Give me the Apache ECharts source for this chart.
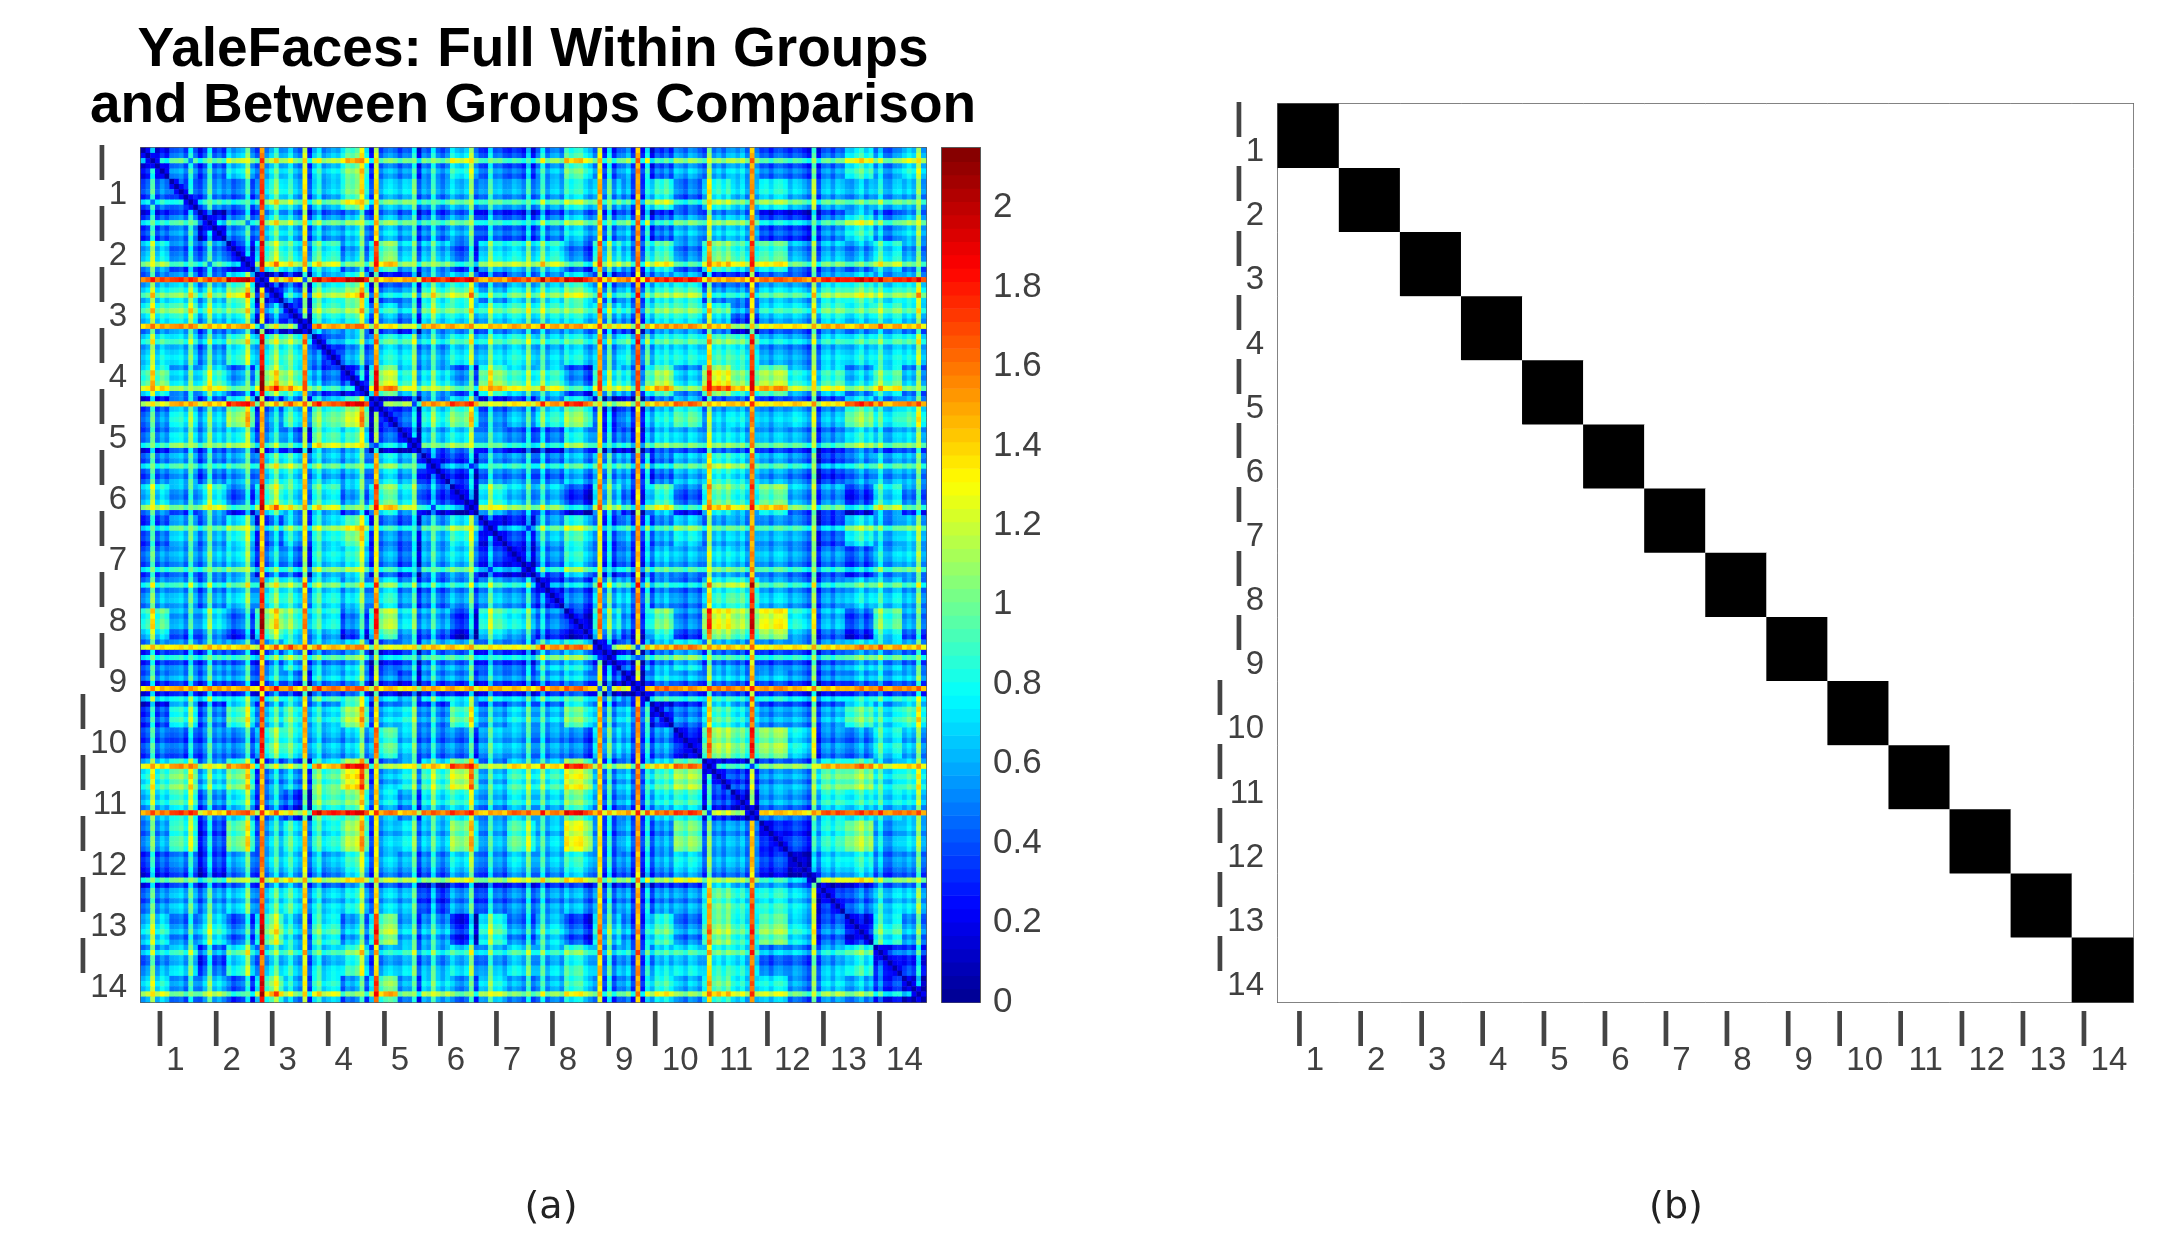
<!DOCTYPE html>
<html><head><meta charset="utf-8">
<style>html,body{margin:0;padding:0;background:#fff}#c{width:2168px;height:1238px}</style>
<script src="https://cdn.jsdelivr.net/npm/echarts@6/dist/echarts.min.js"></script>
</head><body><div id="c"></div>
<script>
const groupLabels = ['1','2','3','4','5','6','7','8','9','10','11','12','13','14'];
const colorbarTicks = [0,0.2,0.4,0.6,0.8,1,1.2,1.4,1.6,1.8,2];
const colorMax = 2.15;
const imageCount = 165;

// Half-group mean distances: 28 rows x 28 columns.
const halfGroupRows = [
[.35,.5,.5,.7,.7,.6,.65,.95,.55,.5,.55,.8,.5,.4,.6,.95,.5,.6,.45,.6,.6,.7,.45,.45,.5,.85,.55,.8],
[.45,.35,.5,.4,.75,.6,.55,.85,.6,.6,.5,.6,.55,.5,.55,.75,.6,.5,.8,.4,.75,.65,.7,.6,.55,.55,.55,.6],
[.45,.5,.3,.5,.75,.6,.55,.6,.65,.55,.5,.6,.45,.4,.5,.7,.55,.6,.45,.6,.65,.7,.35,.35,.5,.8,.5,.7],
[.7,.4,.5,.25,.9,.7,.75,.5,.95,.6,.6,.4,.7,.7,.75,.45,.75,.6,.85,.45,.95,.85,.85,.55,.55,.5,.7,.55],
[.75,.75,.7,.95,.3,.4,.8,.95,.45,.5,.8,.9,.55,.7,.75,.95,.55,.6,.8,.85,.5,.55,.65,.65,.8,.9,.75,.85],
[.8,.8,.7,.75,.4,.25,.75,.8,.6,.45,.75,.75,.7,.75,.75,.8,.65,.55,.8,.8,.7,.4,.6,.65,.75,.7,.75,.7],
[.7,.6,.55,.75,.8,.75,.3,.45,.7,.65,.55,.7,.65,.7,.6,.7,.6,.7,.7,.7,.8,.8,.5,.5,.6,.65,.65,.7],
[.9,.55,.8,.45,1.05,.85,.35,.25,1.05,.7,.65,.45,.95,.75,.75,.4,.75,.65,1,.55,1.15,.95,1,.7,.75,.55,.8,.55],
[.5,.7,.65,1,.5,.7,.85,1.05,.3,.35,.75,.95,.45,.55,.75,1,.35,.45,.7,.85,.6,.7,.55,.65,.55,.95,.7,.85],
[.5,.65,.65,.7,.55,.4,.8,.75,.35,.25,.6,.7,.55,.4,.4,.7,.45,.4,.65,.6,.65,.65,.55,.55,.45,.7,.55,.65],
[.5,.55,.5,.55,.75,.7,.6,.55,.7,.55,.25,.3,.5,.5,.45,.6,.6,.55,.45,.6,.8,.75,.55,.5,.3,.5,.55,.6],
[.75,.5,.8,.4,.95,.7,.75,.5,.95,.7,.35,.2,.8,.6,.6,.3,.7,.45,.85,.4,.95,.85,.95,.6,.5,.3,.7,.5],
[.45,.6,.6,.75,.45,.6,.7,.9,.5,.4,.6,.8,.25,.3,.6,.85,.45,.55,.55,.7,.6,.65,.55,.55,.35,.75,.55,.7],
[.5,.5,.6,.65,.5,.4,.65,.7,.5,.35,.55,.65,.3,.2,.45,.75,.4,.45,.6,.55,.65,.65,.55,.5,.45,.35,.55,.65],
[.6,.55,.55,.65,.8,.7,.7,.6,.75,.5,.45,.55,.6,.5,.3,.45,.65,.6,.55,.45,.8,.9,.6,.55,.5,.65,.65,.6],
[.9,.5,.7,.4,1.1,.85,.7,.4,1.05,.65,.55,.3,.85,.7,.45,.25,.75,.5,.95,.45,1.2,1.1,1.2,.75,.55,.35,.85,.55],
[.5,.45,.55,.5,.55,.65,.55,.6,.35,.45,.55,.55,.45,.4,.65,.75,.3,.4,.6,.7,.55,.55,.45,.5,.5,.65,.6,.55],
[.5,.5,.55,.5,.6,.45,.6,.6,.45,.35,.5,.5,.5,.45,.55,.65,.4,.25,.65,.55,.6,.6,.55,.5,.45,.55,.55,.6],
[.4,.75,.5,.85,.7,.8,.65,1,.6,.7,.5,.9,.55,.65,.6,.95,.6,.65,.35,.45,.85,.75,.5,.55,.55,.9,.7,.9],
[.45,.35,.5,.45,.85,.75,.55,.55,.85,.6,.45,.45,.6,.55,.5,.45,.65,.55,.5,.2,1.05,.95,1,.7,.45,.45,.7,.6],
[.85,.95,.7,.95,.5,.5,.85,1.2,.55,.7,.85,1.15,.6,.8,.8,1.2,.55,.6,.85,1.05,.3,.35,.5,.55,.9,1,.7,.85],
[.75,.85,.55,.75,.55,.3,.9,.95,.7,.55,.75,.85,.6,.75,.7,1,.55,.6,.75,.85,.35,.25,.55,.55,.8,.8,.7,.75],
[.55,.8,.35,.9,.6,.7,.7,1,.55,.65,.6,1,.55,.85,.6,1.2,.45,.55,.5,.95,.5,.55,.2,.3,.75,1,.5,.65],
[.4,.45,.35,.55,.65,.65,.55,.75,.6,.55,.5,.7,.5,.65,.6,.8,.5,.5,.55,.7,.55,.6,.3,.15,.65,.75,.45,.55],
[.5,.55,.55,.6,.7,.7,.6,.65,.6,.55,.3,.5,.4,.45,.5,.55,.5,.5,.5,.5,.9,.8,.75,.65,.25,.4,.6,.65],
[.75,.45,.75,.4,1,.6,.75,.5,1,.55,.55,.25,.8,.45,.65,.35,.7,.5,.85,.45,1,.85,.95,.7,.4,.2,.75,.55],
[.55,.6,.4,.7,.65,.6,.6,.75,.55,.6,.55,.65,.55,.65,.6,.8,.55,.55,.65,.65,.75,.75,.4,.45,.55,.75,.2,.3],
[.8,.5,.7,.4,1,.6,.75,.5,1,.55,.7,.55,.75,.55,.6,.85,.5,.55,.85,.6,.95,.8,.75,.55,.65,.6,.3,.2]
];

// Per-image offset read from the bright and dark stripes of panel (a), ten images per line.
const imageOffset = [
-.15,-.05,.45,-.1,.05,-.05,.03,.05,.1,-.05,
.4,.02,-.2,-.02,.4,-.05,.05,-.08,.1,-.05,
.03,.08,.45,-.1,-.25,.95,-.1,.05,.3,-.05,
.08,.26,.02,-.08,.7,-.25,.08,.25,-.05,.03,
.1,.05,-.08,.12,.05,.15,.5,-.1,-.25,.75,
-.08,.05,.1,.03,-.05,.08,.05,.4,-.25,.05,
-.03,.35,.02,-.08,.05,.1,-.02,-.07,.03,.45,
-.2,-.05,-.08,.35,.02,.06,-.06,0,.1,.05,
-.05,.35,-.1,-.05,.3,-.08,.05,.08,-.05,.1,
-.03,.05,.08,-.1,-.2,.04,.85,-.15,.35,-.15,
.05,-.03,.1,-.2,.95,-.25,.25,-.2,.05,-.03,
.1,-.05,.08,.03,-.06,.1,.05,-.05,-.15,.55,
-.02,.08,-.05,.1,.02,-.06,.05,-.15,.85,-.08,
.02,.06,-.05,.08,.1,.03,-.04,.07,.03,-.05,
-.15,.55,-.22,.03,.08,-.05,.1,.05,-.03,-.06,
.05,.15,-.05,.06,.02,.25,-.03,-.06,.08,.1,
-.05,.05,-.05,.45,-.12
];

const jetStops = [[0,'#00008f'],[.109,'#0000ff'],[.359,'#00ffff'],[.484,'#7fff7f'],[.609,'#ffff00'],[.859,'#ff0000'],[1,'#800000']];
const jetBands = 64;

function hexToRgb(h){return [1,3,5].map(k=>parseInt(h.substr(k,2),16));}
function jetColor(t){
  for(let k=1;k<jetStops.length;k++){
    if(t<=jetStops[k][0]){
      const a=jetStops[k-1],b=jetStops[k],f=(t-a[0])/(b[0]-a[0]);
      const x=hexToRgb(a[1]),y=hexToRgb(b[1]);
      return 'rgb('+x.map((v,q)=>Math.round(v+(y[q]-v)*f)).join(',')+')';
    }
  }
  return jetStops[jetStops.length-1][1];
}
const jetColors = Array.from({length:jetBands},(_,k)=>jetColor((k+.5)/jetBands));

const imageIds = Array.from({length:imageCount},(_,k)=>String(k));
const half = i => Math.floor(i*28/imageCount);
const group = i => Math.floor(half(i)/2);
const distanceCells = [];
for(let r=0;r<imageCount;r++){
  for(let c=0;c<imageCount;c++){
    const base = halfGroupRows[half(r)][half(c)];
    const a = imageOffset[r], b = imageOffset[c];
    let v;
    if(r===c) v = 0.03;
    else if(Math.abs(r-c)===1 && half(r)===half(c)) v = Math.min(base,0.22);
    else if(a>.3 && b>.3) v = group(r)===group(c) ? base : base+Math.max(a,b)+.3*Math.min(a,b);
    else v = base+a+b;
    distanceCells.push([c,r,Math.max(0.02,Math.min(colorMax-.02,v))]);
  }
}
const membershipCells = [];
groupLabels.forEach((g,r)=>groupLabels.forEach((h,c)=>membershipCells.push([c,r,r===c?1:0])));
const bandData = jetColors.map((_,k)=>[k*colorMax/jetBands,(k+1)*colorMax/jetBands,k]);

const TXT='#404040', LINE='#5a5a5a', FONT='"Liberation Sans",Arial,sans-serif';
const rich = {
  i:{fontFamily:FONT,fontSize:50,lineHeight:32,color:'#444444'},
  s:{fontFamily:FONT,fontSize:33,lineHeight:25,color:TXT},
  a:{width:13,fontSize:10,lineHeight:25},
  n1:{width:18,fontSize:10,lineHeight:32},
  n2:{width:37,fontSize:10,lineHeight:32}
};
const subLabel = v => '{i|I}{'+(v.length>1?'n2':'n1')+'|\u00a0}\n{a|\u00a0}{s|'+v+'}';
const line = {show:true,lineStyle:{color:LINE,width:2}};
const ticks = {show:true,inside:true,alignWithLabel:true,length:8,lineStyle:{color:LINE,width:1.5}};
const groupX = (gridIndex,position,labelled)=>({type:'category',gridIndex,position,data:groupLabels,boundaryGap:true,
  axisLine:{...line,onZero:false},axisTick:ticks,splitLine:{show:false},
  axisLabel:labelled?{show:true,interval:0,margin:14,formatter:subLabel,rich}:{show:false}});
const groupY = (gridIndex,position,labelled)=>({type:'category',gridIndex,position,inverse:true,data:groupLabels,boundaryGap:true,
  axisLine:{...line,onZero:false},axisTick:ticks,splitLine:{show:false},
  axisLabel:labelled?{show:true,interval:0,margin:14,formatter:subLabel,rich}:{show:false}});
const hiddenCat = (gridIndex,data,extra)=>({type:'category',gridIndex,data,show:false,...extra});
const frameOnlyX = position => ({type:'value',gridIndex:3,position,min:0,max:1,
  axisLine:{...line,onZero:false},axisTick:{show:false},axisLabel:{show:false},splitLine:{show:false}});

const chart = echarts.init(document.getElementById('c'),null,{renderer:'canvas'});
chart.setOption({
  animation:false,
  backgroundColor:'#fff',
  title:[
    {text:'YaleFaces: Full Within Groups\nand Between Groups Comparison',left:528,top:18,textAlign:'center',
     textStyle:{fontFamily:FONT,fontWeight:'bold',fontSize:55,lineHeight:56,color:'#000'}},
    {text:'(a)',left:546,top:1184,textAlign:'center',textStyle:{fontFamily:'"DejaVu Sans"',fontWeight:'normal',fontSize:38,color:'#222'}},
    {text:'(b)',left:1671,top:1184,textAlign:'center',textStyle:{fontFamily:'"DejaVu Sans"',fontWeight:'normal',fontSize:38,color:'#222'}}
  ],
  grid:[
    {left:141,top:148,width:785,height:854},
    {left:141,top:148,width:785,height:854},
    {left:1278,top:104,width:855,height:898},
    {left:942,top:148,width:38,height:854}
  ],
  xAxis:[
    hiddenCat(0,imageIds),
    groupX(1,'bottom',true),groupX(1,'top',false),
    groupX(2,'bottom',true),groupX(2,'top',false),
    frameOnlyX('bottom'),frameOnlyX('top')
  ],
  yAxis:[
    hiddenCat(0,imageIds,{inverse:true}),
    groupY(1,'left',true),groupY(1,'right',false),
    groupY(2,'left',true),groupY(2,'right',false),
    {type:'value',gridIndex:3,position:'right',min:0,max:colorMax,
     axisLine:{...line,onZero:false},
     axisTick:{show:true,inside:true,length:8,customValues:colorbarTicks,lineStyle:{color:LINE,width:1.5}},
     splitLine:{show:false},
     axisLabel:{show:true,margin:13,color:TXT,fontFamily:FONT,fontSize:35,
       customValues:colorbarTicks,formatter:v=>String(v)}},
    {type:'value',gridIndex:3,position:'left',min:0,max:colorMax,
     axisLine:{...line,onZero:false},axisTick:{show:false},axisLabel:{show:false},splitLine:{show:false}}
  ],
  visualMap:[
    {show:false,type:'continuous',seriesIndex:0,dimension:2,min:0,max:colorMax,inRange:{color:jetColors}},
    {show:false,type:'continuous',seriesIndex:1,dimension:2,min:0,max:1,inRange:{color:['#ffffff','#000000']}}
  ],
  series:[
    {type:'heatmap',xAxisIndex:0,yAxisIndex:0,data:distanceCells,progressive:0,silent:true,z:1,emphasis:{disabled:true}},
    {type:'heatmap',xAxisIndex:3,yAxisIndex:3,data:membershipCells,progressive:0,silent:true,z:1,emphasis:{disabled:true}},
    {type:'custom',xAxisIndex:5,yAxisIndex:5,data:bandData,silent:true,z:1,
     renderItem:(p,api)=>{
       const a=api.coord([0,api.value(0)]),b=api.coord([1,api.value(1)]);
       return {type:'rect',shape:{x:a[0],y:b[1],width:b[0]-a[0],height:a[1]-b[1]+.6},
               style:{fill:jetColors[api.value(2)]}};
     }}
  ]
});
</script></body></html>
